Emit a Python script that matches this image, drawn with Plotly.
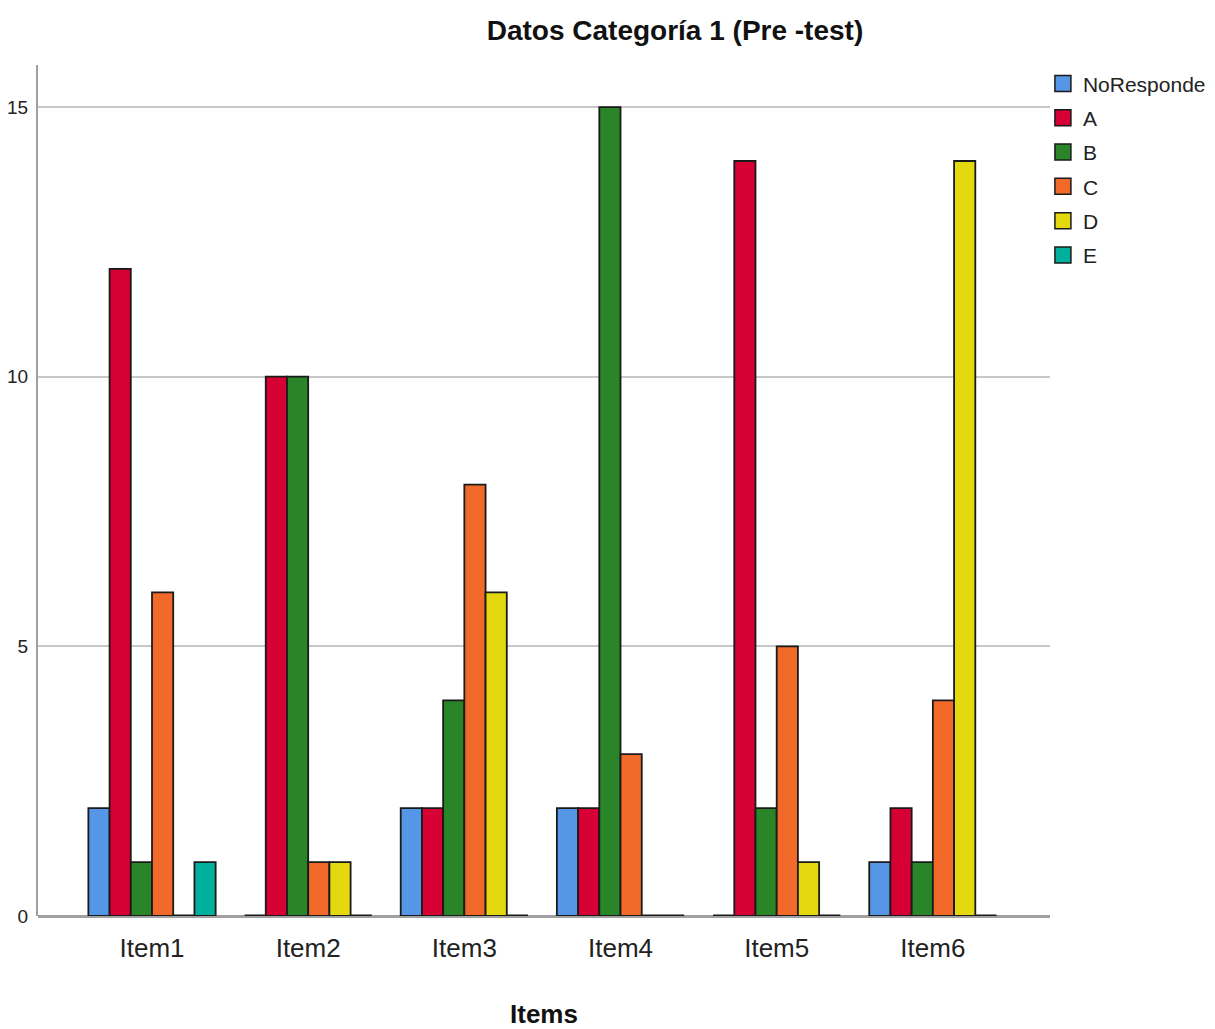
import plotly.graph_objects as go

items = ["Item1", "Item2", "Item3", "Item4", "Item5", "Item6"]
series_names = ["NoResponde", "A", "B", "C", "D", "E"]
no_responde = [2, 0, 2, 2, 0, 1]
a_vals = [12, 10, 2, 2, 14, 2]
b_vals = [1, 10, 4, 15, 2, 1]
c_vals = [6, 1, 8, 3, 5, 4]
d_vals = [0, 1, 6, 0, 1, 14]
e_vals = [1, 0, 0, 0, 0, 0]
colors = ["#5596e6", "#d70034", "#2a8428", "#f26a2a", "#e4d80f", "#00b09e"]
y_ticks = [0, 5, 10, 15]

values = [no_responde, a_vals, b_vals, c_vals, d_vals, e_vals]

FONT = "Liberation Sans, Arial, sans-serif"

fig = go.Figure()
for name, vals, col in zip(series_names, values, colors):
    # zero-height bars are drawn as a heavier black outline segment (as in SPSS output)
    widths = [3.2 if v == 0 else 1.8 for v in vals]
    fig.add_trace(go.Bar(
        x=items, y=vals, name=name, showlegend=False, legendgroup=name,
        cliponaxis=False,
        marker=dict(color=col, line=dict(color="#1a1a1a", width=widths)),
    ))
# legend entries with larger square swatches
for name, col in zip(series_names, colors):
    fig.add_trace(go.Scatter(
        x=[None], y=[None], mode="markers", name=name, legendgroup=name,
        marker=dict(symbol="square", size=20, color=col, line=dict(color="#1a1a1a", width=1.5)),
    ))

# page body has an 8px margin: figure is sized/offset to fill the 1215x1029 window
fig.update_layout(
    width=1207, height=1021,
    barmode="group", bargap=0.185, bargroupgap=0,
    plot_bgcolor="white", paper_bgcolor="white",
    margin=dict(l=30, r=165, t=57, b=113, autoexpand=False),
    font=dict(family=FONT, color="#222"),
    title=dict(text="<b>Datos Categoría 1 (Pre -test)</b>", x=0.5526, xanchor="center",
               y=0.9785, yanchor="middle", font=dict(family=FONT, size=28, color="#111")),
    legend=dict(x=0.993, xanchor="left", y=1.002, yanchor="top",
                font=dict(family=FONT, size=21, color="#222"),
                tracegroupgap=4, itemwidth=30, bgcolor="rgba(0,0,0,0)"),
    showlegend=True,
)
fig.update_xaxes(
    range=[-0.73, 5.75], showline=False, automargin=False,
    ticks="", tickfont=dict(family=FONT, size=26, color="#222"), ticklabelstandoff=14,
    title=dict(text="<b>Items</b>", font=dict(family=FONT, size=26, color="#111"), standoff=43),
    showgrid=False, zeroline=False,
)
fig.update_yaxes(
    range=[0, 15.78], tickvals=y_ticks, showline=True, linecolor="#a0a0a0", linewidth=2,
    showgrid=True, gridcolor="#c8c8c8", gridwidth=2,
    zeroline=True, zerolinecolor="#a0a0a0", zerolinewidth=3, automargin=False,
    ticks="", tickfont=dict(family=FONT, size=19, color="#222"), ticklabelstandoff=4,
)

fig.write_html("out.html")
